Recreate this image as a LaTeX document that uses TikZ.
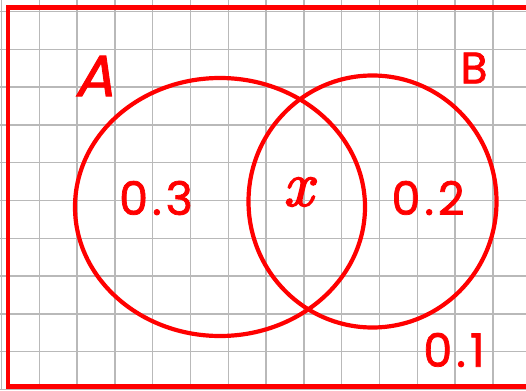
\documentclass[tikz,border=0pt]{standalone}
\usepackage{fontspec}
\setmainfont{Poppins}
\newfontfamily\penfont[FakeBold=1.6]{Poppins}
\newfontfamily\penitfont[FakeBold=1.6,FakeSlant=0.22]{Poppins}
\newfontfamily\lmfont[FakeBold=2.5]{lmroman10-italic.otf}
\definecolor{pen}{RGB}{255,0,0}
\definecolor{gridgray}{RGB}{185,185,185}
\tikzset{
  gridline/.style={draw=gridgray, line width=1.3pt},
  setline/.style={draw=pen, line width=4.2pt},
  framel/.style={draw=pen, line width=4.6pt, line join=miter},
  lbl/.style={text=pen, inner sep=0pt, font=\fontsize{46}{46}\selectfont\penfont},
}
\newcommand{\dnum}[2]{#1\kern4pt.\kern4pt#2}
\begin{document}
\begin{tikzpicture}[x=1pt,y=-1pt]
\useasboundingbox (0,0) rectangle (526,390);
\clip (0,0) rectangle (526,390);
\fill[white] (0,0) rectangle (526,390);
% grid
\foreach \k in {0,...,13} {
  \draw[gridline] ({1.5+37.8*\k},0) -- ({1.5+37.8*\k},390);
}
\foreach \k in {0,...,10} {
  \draw[gridline] (0,{11.5+37.8*\k}) -- (526,{11.5+37.8*\k});
}
% frame (right side beyond the picture)
\draw[framel] (560,7.3) -- (8,7.3) -- (8,386.7) -- (560,386.7);
% sets
\draw[setline] (220,207) ellipse [x radius=145, y radius=129];
\draw[setline] (372.5,201.5) ellipse [x radius=124, y radius=126];
% labels
\node[lbl, font=\fontsize{58}{58}\selectfont\penitfont] (la) at (94,76) {A};
\node[lbl, font=\fontsize{44}{44}\selectfont\penfont] (lb) at (474,68) {B};
\node[lbl] (p3) at (156,198) {\dnum{0}{3}};
\node[lbl, font=\fontsize{64}{64}\selectfont\lmfont] (px) at (298,192) {x};
\node[lbl] (p2) at (428,198) {\dnum{0}{2}};
\node[lbl] (p1) at (454,350) {\dnum{0}{1}};
\end{tikzpicture}
\end{document}
